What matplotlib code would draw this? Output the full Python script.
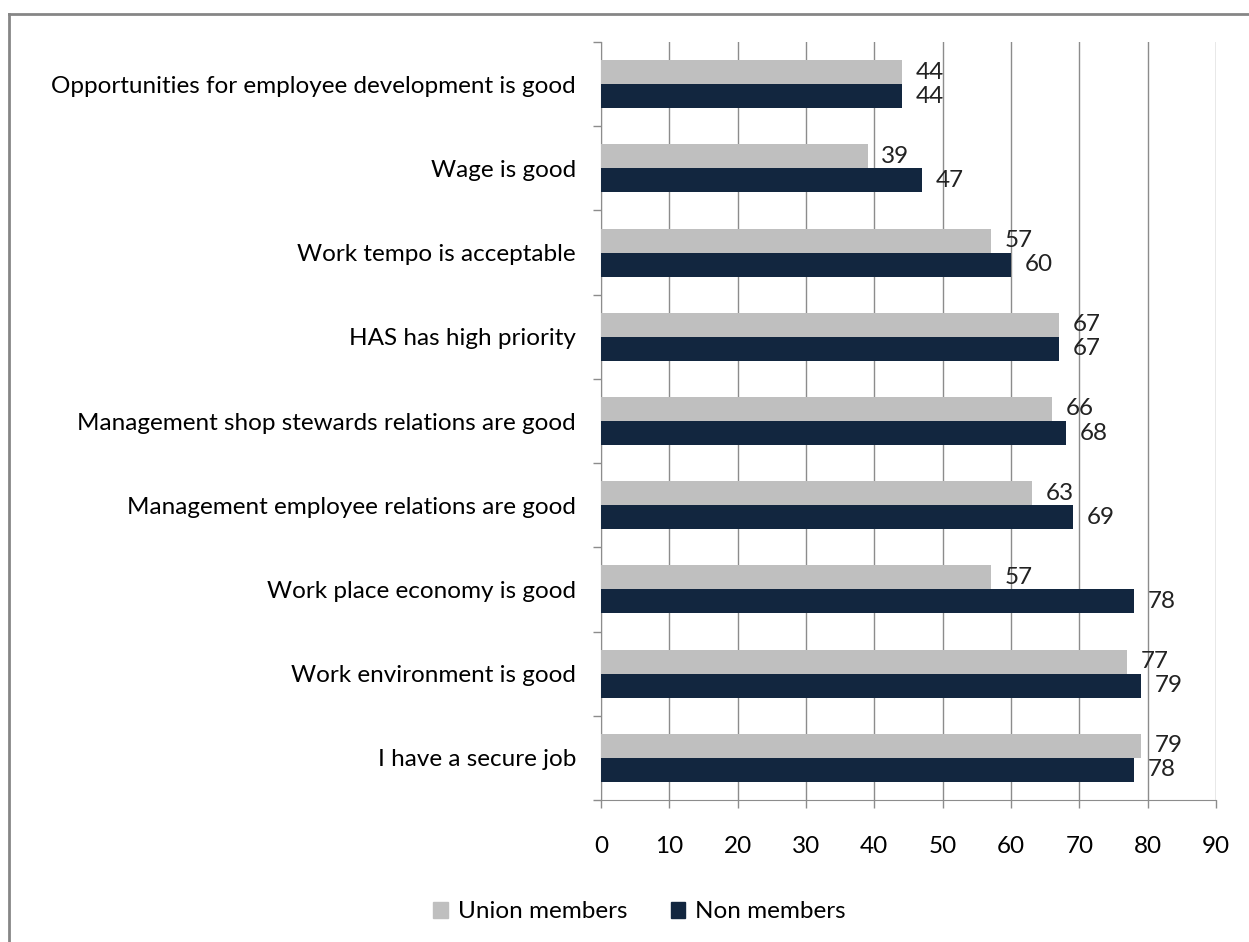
import matplotlib

matplotlib.use("Agg")
import matplotlib.pyplot as plt
import numpy as np
from matplotlib.lines import Line2D
from matplotlib.patches import Patch

plt.rcParams["font.family"] = ["Lato", "DejaVu Sans"]

categories = [
    "Opportunities for employee development is good",
    "Wage is good",
    "Work tempo is acceptable",
    "HAS has high priority",
    "Management shop stewards relations are good",
    "Management employee relations are good",
    "Work place economy is good",
    "Work environment is good",
    "I have a secure job",
]
union = [44, 39, 57, 67, 66, 63, 57, 77, 79]
non_members = [44, 47, 60, 67, 68, 69, 78, 79, 78]
x_ticks = list(range(0, 100, 10))

GREY = "#bfbfbf"
NAVY = "#12263f"
LINE = "#8c8c8c"
FS = 17.5

fig = plt.figure(figsize=(12.49, 9.42), dpi=100)
ax = fig.add_axes([601 / 1249, 1 - 800 / 942, 615 / 1249, 758 / 942])

y = np.arange(len(categories))
h = 0.285
b1 = ax.barh(y - h / 2, union, height=h, color=GREY, zorder=3)
b2 = ax.barh(y + h / 2, non_members, height=h, color=NAVY, zorder=3)
ax.bar_label(b1, padding=10, fontsize=FS, color="#222222")
ax.bar_label(b2, padding=10, fontsize=FS, color="#222222")

ax.set_xlim(0, 90)
ax.set_ylim(len(categories) - 0.5, -0.5)
ax.set_xticks(x_ticks)
ax.set_yticks(y)
ax.set_yticklabels(categories)
ax.set_yticks(np.arange(len(categories) + 1) - 0.5, minor=True)
ax.tick_params(axis="y", which="major", length=0, pad=18, labelsize=FS)
ax.tick_params(axis="y", which="minor", length=6, color=LINE, width=1)
ax.tick_params(axis="x", length=6, color=LINE, width=1, pad=20, labelsize=FS)
ax.grid(axis="x", color=LINE, lw=1, zorder=0)
for side in ("top", "right"):
    ax.spines[side].set_visible(False)
for side in ("left", "bottom"):
    ax.spines[side].set_color(LINE)

handles = [Patch(color=GREY, label="Union members"),
           Patch(color=NAVY, label="Non members")]
fig.legend(handles=handles, loc="center", bbox_to_anchor=(0.512, 0.032),
           ncol=2, frameon=False, fontsize=FS, handlelength=0.6,
           handleheight=0.6, handletextpad=0.4, columnspacing=1.8)

# outer chart frame (top and left edges visible)
fy = 1 - 14 / 942
fx = 9 / 1249
fig.add_artist(Line2D([fx, 1], [fy, fy], transform=fig.transFigure,
                      color="#868686", lw=2))
fig.add_artist(Line2D([fx, fx], [0, fy], transform=fig.transFigure,
                      color="#868686", lw=2))

fig.savefig("out.png", dpi=100)
